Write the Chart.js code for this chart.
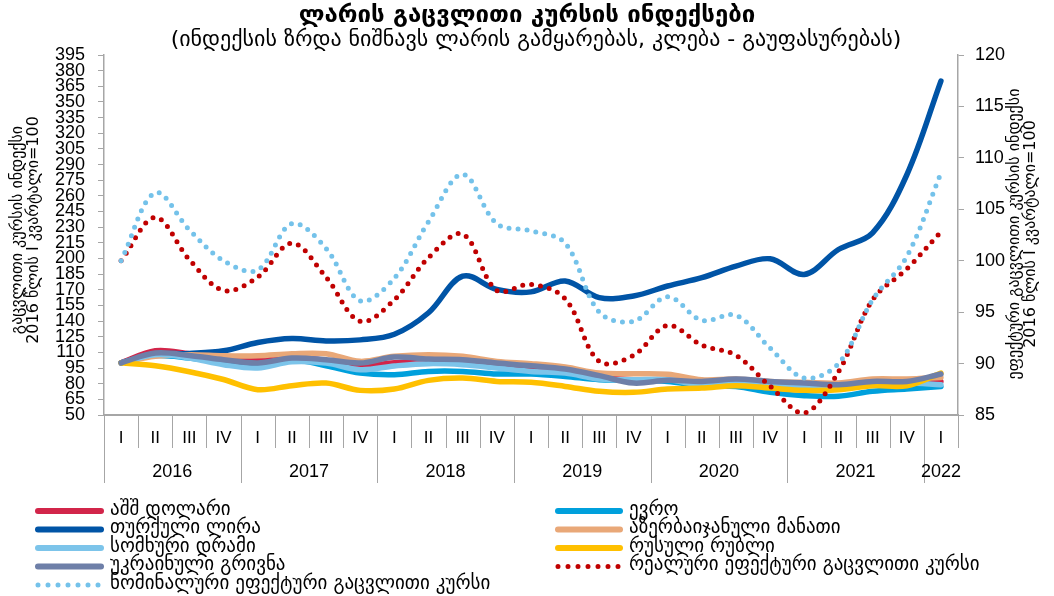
<!DOCTYPE html>
<html>
<head>
<meta charset="utf-8">
<script src="https://cdn.jsdelivr.net/npm/chart.js@4.4.1/dist/chart.umd.min.js"></script>
<style>
  html, body { margin: 0; padding: 0; background: #fff; }
  #wrap { width: 1054px; height: 596px; position: relative; }
</style>
</head>
<body>
<div id="wrap"><canvas id="c" width="1054" height="596"></canvas></div>
<script>
// ---- texts ----
const titleText = 'ლარის გაცვლითი კურსის ინდექსები';
const subtitleText = '(ინდექსის ზრდა ნიშნავს ლარის გამყარებას, კლება - გაუფასურებას)';
const leftAxisTitle = ['გაცვლითი კურსის ინდექსი', '2016 წლის I კვარტალი=100'];
const rightAxisTitle = ['ეფექტური გაცვლითი კურსის ინდექსი', '2016 წლის I კვარტალი=100'];

// ---- categories ----
const quarterLabels = ['I','II','III','IV','I','II','III','IV','I','II','III','IV','I','II','III','IV','I','II','III','IV','I','II','III','IV','I'];
const yearLabels = ['2016','2017','2018','2019','2020','2021','2022'];
const yearSpans = [4, 4, 4, 4, 4, 4, 1];

// ---- series (left axis) ----
const usd = [100, 111.6, 108.7, 104.6, 102.3, 104.6, 102.3, 97.2, 100.0, 101.4, 99.8, 96.0, 95.0, 91.8, 86.4, 83.8, 83.8, 81.3, 82.2, 79.0, 74.3, 74.9, 79.0, 80.6, 82.2];
const eur = [100, 107.0, 104.6, 100.4, 97.2, 103.0, 97.2, 90.2, 88.6, 91.8, 91.8, 89.3, 89.3, 87.0, 83.8, 83.5, 82.0, 78.0, 77.4, 71.7, 68.5, 67.9, 72.7, 74.9, 77.4];
const tryLira = [100, 108.0, 109.0, 111.5, 119.5, 123.3, 121.0, 122.0, 127.4, 148.0, 183.0, 170.4, 168.0, 178.4, 162.5, 164.0, 173.6, 181.6, 192.7, 199.7, 184.7, 208.6, 224.6, 280.0, 370.0];
const azn = [100, 106.2, 107.8, 106.8, 106.8, 108.7, 108.7, 101.4, 106.2, 107.8, 106.2, 101.4, 99.2, 96.0, 90.2, 89.6, 89.0, 83.8, 84.5, 82.2, 81.3, 80.6, 84.5, 84.5, 86.0];
const amd = [100, 107.8, 104.6, 98.2, 95.0, 101.0, 99.8, 93.4, 97.0, 99.2, 98.2, 95.0, 91.8, 90.2, 84.5, 83.8, 83.8, 79.0, 80.6, 77.4, 77.4, 77.4, 79.0, 80.6, 79.0];
const rub = [100, 97.2, 91.5, 84.0, 74.3, 78.1, 80.6, 73.6, 74.9, 83.2, 85.4, 82.2, 81.3, 77.4, 72.7, 71.7, 74.9, 75.8, 78.1, 75.8, 73.6, 74.3, 78.1, 78.1, 90.2];
const uah = [100, 109.4, 107.1, 103.0, 99.8, 104.6, 103.0, 99.8, 105.5, 103.6, 103.0, 99.8, 97.2, 94.0, 87.7, 80.6, 83.2, 82.2, 84.5, 82.2, 80.6, 79.0, 82.2, 82.2, 89.3];
// ---- series (right axis) ----
const reer = [100, 104.2, 100.1, 97.1, 98.4, 101.7, 98.4, 94.1, 96.2, 100.3, 102.6, 97.1, 97.7, 96.3, 90.2, 90.8, 93.7, 91.8, 90.8, 87.8, 85.2, 89.2, 96.2, 99.2, 102.8];
const neer = [100, 106.6, 103.0, 100.0, 99.1, 103.6, 101.2, 96.1, 98.3, 103.8, 108.4, 103.6, 102.9, 101.7, 95.0, 94.1, 96.5, 94.2, 94.7, 91.5, 88.6, 90.0, 96.2, 100.4, 108.5];

// ---- axis ranges ----
const leftMin = 50, leftMax = 395, leftStep = 15;
const rightMin = 85, rightMax = 120, rightStep = 5;

const FONT = "'Liberation Sans', 'DejaVu Sans', sans-serif";
const GEO = "'DejaVu Sans', 'Liberation Sans', sans-serif";
const AXIS_COLOR = '#a6a6a6';

const seriesDefs = [
  { label: 'აშშ დოლარი', data: usd, color: '#d2254a', axis: 'y', dotted: false },
  { label: 'ევრო', data: eur, color: '#00a0dc', axis: 'y', dotted: false },
  { label: 'თურქული ლირა', data: tryLira, color: '#0054a6', axis: 'y', dotted: false },
  { label: 'აზერბაიჯანული მანათი', data: azn, color: '#e9a878', axis: 'y', dotted: false },
  { label: 'სომხური დრამი', data: amd, color: '#7cc4ea', axis: 'y', dotted: false },
  { label: 'რუსული რუბლი', data: rub, color: '#ffc000', axis: 'y', dotted: false },
  { label: 'უკრაინული გრივნა', data: uah, color: '#6e7fa8', axis: 'y', dotted: false },
  { label: 'რეალური ეფექტური გაცვლითი კურსი', data: reer, color: '#c00000', axis: 'y2', dotted: true },
  { label: 'ნომინალური ეფექტური გაცვლითი კურსი', data: neer, color: '#74c2ea', axis: 'y2', dotted: true }
];

const datasets = seriesDefs.map((s, i) => ({
  label: s.label,
  data: s.data,
  yAxisID: s.axis,
  borderColor: s.color,
  backgroundColor: s.color,
  borderWidth: s.dotted ? 5 : 5.5,
  borderDash: s.dotted ? [0, 9] : [],
  borderCapStyle: 'round',
  borderJoinStyle: 'round',
  pointRadius: 0,
  pointHoverRadius: 0,
  tension: 0.35,
  fill: false,
  order: seriesDefs.length - i,
  _dotted: s.dotted
}));

const decor = {
  id: 'decor',
  afterDraw(chart) {
    const ctx = chart.ctx;
    const xs = chart.scales.x;
    const area = chart.chartArea;
    ctx.save();
    ctx.fillStyle = '#000';
    ctx.textAlign = 'center';
    ctx.textBaseline = 'middle';
    ctx.font = 'bold 24px ' + GEO;
    ctx.fillText(titleText, 527, 16);
    ctx.font = '22px ' + GEO;
    ctx.fillText(subtitleText, 536, 40);

    // axis titles (rotated)
    ctx.font = '16px ' + GEO;
    [[18, 230, leftAxisTitle[0]], [34, 230, leftAxisTitle[1]], [1015, 234, rightAxisTitle[0]], [1031, 234, rightAxisTitle[1]]].forEach(([x, cy, t]) => {
      ctx.save();
      ctx.translate(x, cy);
      ctx.rotate(-Math.PI / 2);
      ctx.fillText(t, 0, 0);
      ctx.restore();
    });

    // category separators and year labels
    const step = xs.getPixelForValue(1) - xs.getPixelForValue(0);
    const x0 = xs.getPixelForValue(0) - step / 2;
    ctx.strokeStyle = AXIS_COLOR;
    ctx.lineWidth = 1;
    const n = quarterLabels.length;
    for (let b = 0; b <= n; b++) {
      const px = Math.round(x0 + b * step) + 0.5;
      ctx.beginPath();
      ctx.moveTo(px, area.bottom);
      ctx.lineTo(px, area.bottom + 33);
      ctx.stroke();
    }
    let acc = 0;
    ctx.font = '18px ' + FONT;
    const bounds = [0];
    yearSpans.forEach(s => { acc += s; bounds.push(acc); });
    bounds.forEach(b => {
      const px = Math.round(x0 + b * step) + 0.5;
      if (b === n) return;
      ctx.beginPath();
      ctx.moveTo(px, area.bottom);
      ctx.lineTo(px, area.bottom + 68);
      ctx.stroke();
    });
    for (let k = 0; k < yearLabels.length; k++) {
      const c = x0 + (bounds[k] + bounds[k + 1]) / 2 * step;
      ctx.fillText(yearLabels[k], c, 472);
    }

    // legend
    ctx.textAlign = 'left';
    ctx.font = '19px ' + GEO;
    chart.data.datasets.forEach((ds, i) => {
      const col = i % 2, row = Math.floor(i / 2);
      const sx = col === 0 ? 35 : 555;
      const len = col === 0 ? 69 : 68;
      const y = 511 + row * 18.5;
      ctx.save();
      ctx.strokeStyle = ds.borderColor;
      ctx.lineCap = 'round';
      ctx.lineWidth = ds._dotted ? 5 : 6;
      ctx.setLineDash(ds._dotted ? [0, 10] : []);
      ctx.beginPath();
      ctx.moveTo(sx + 3, y);
      ctx.lineTo(sx + len - 3, y);
      ctx.stroke();
      ctx.restore();
      ctx.fillStyle = '#000';
      ctx.fillText(ds.label, sx + len + 6, y - 1);
    });
    ctx.restore();
  }
};

new Chart(document.getElementById('c'), {
  type: 'line',
  data: { labels: quarterLabels, datasets },
  plugins: [decor],
  options: {
    responsive: false,
    animation: false,
    devicePixelRatio: 1,
    layout: { padding: { top: 55, left: 0, right: 0, bottom: 0 } },
    plugins: { legend: { display: false }, title: { display: false }, tooltip: { enabled: false } },
    scales: {
      x: {
        type: 'category',
        offset: true,
        grid: { display: false, drawTicks: false },
        border: { display: true, color: AXIS_COLOR, width: 2 },
        ticks: { color: '#000', font: { family: FONT, size: 17 }, padding: 13, autoSkip: false, maxRotation: 0 },
        afterFit(s) { s.height = 181; }
      },
      y: {
        position: 'left',
        min: leftMin, max: leftMax,
        grid: { drawOnChartArea: false, drawTicks: true, tickLength: 6, color: AXIS_COLOR },
        border: { display: true, color: AXIS_COLOR, width: 1.5 },
        ticks: { stepSize: leftStep, autoSkip: false, color: '#000', font: { family: FONT, size: 18 }, padding: 13 },
        afterFit(s) { s.width = 104; }
      },
      y2: {
        position: 'right',
        min: rightMin, max: rightMax,
        grid: { drawOnChartArea: false, drawTicks: true, tickLength: 6, color: AXIS_COLOR },
        border: { display: true, color: AXIS_COLOR, width: 1.5 },
        ticks: { stepSize: rightStep, autoSkip: false, color: '#000', font: { family: FONT, size: 18 }, padding: 11 },
        afterFit(s) { s.width = 96; }
      }
    }
  }
});
</script>
</body>
</html>
